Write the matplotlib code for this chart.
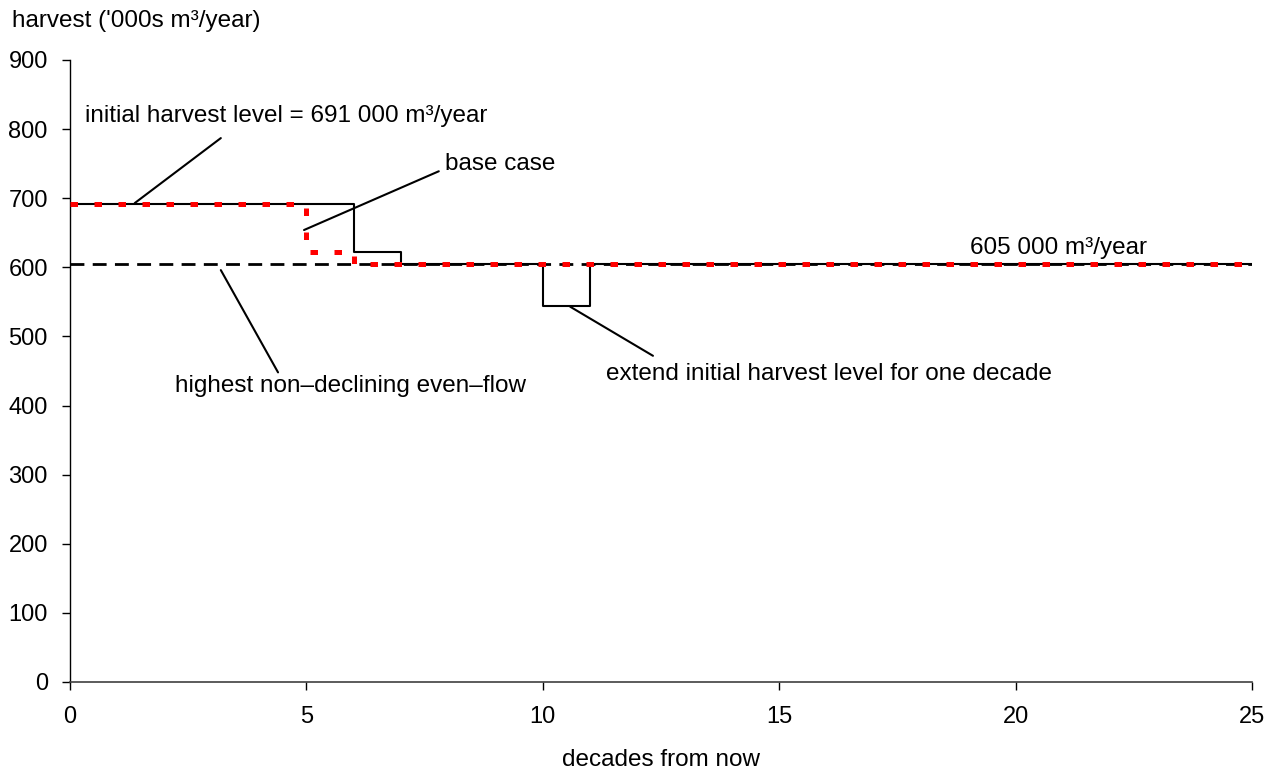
import matplotlib
matplotlib.use("Agg")
import matplotlib.pyplot as plt

# harvest schedules ('000s m3/year), step values start at each decade listed
base_decades = [0, 5, 6, 25]
base_harvest = [691, 622, 605, 605]
extend_decades = [0, 6, 7, 10, 11, 25]
extend_harvest = [691, 622, 605, 544, 605, 605]
evenflow_decades = [0, 25]
evenflow_harvest = [605, 605]

xticks = [0, 5, 10, 15, 20, 25]
yticks = [0, 100, 200, 300, 400, 500, 600, 700, 800, 900]

plt.rcParams['font.family'] = ['Liberation Sans', 'DejaVu Sans']
FS = 17.5      # annotation / axis titles
TFS = 17       # tick labels

fig = plt.figure(figsize=(12.74, 7.73), dpi=100)
ax = fig.add_axes([70/1274, 1-682/773, (1252-70)/1274, (682-60)/773])

ax.plot(evenflow_decades, evenflow_harvest, color="black", lw=2.0,
        dashes=(5, 3), zorder=2)
ax.plot(extend_decades, extend_harvest, color="black", lw=1.5,
        drawstyle="steps-post", zorder=3)
ax.plot(base_decades, base_harvest, color="#ff0000", lw=3.6,
        dashes=(1.5, 3.3), dash_capstyle="butt", drawstyle="steps-post", zorder=4)

ax.set_xlim(0, 25)
ax.set_ylim(0, 900)
ax.set_xticks(xticks)
ax.set_yticks(yticks)
ax.tick_params(axis="both", direction="out", length=6, width=1, color="black",
               labelsize=TFS)
ax.tick_params(axis="y", pad=10)
ax.tick_params(axis="x", pad=11)
for s in ["top", "right"]:
    ax.spines[s].set_visible(False)
ax.spines["left"].set_color("black")
ax.spines["bottom"].set_color("#404040")
ax.spines["left"].set_linewidth(1)
ax.spines["bottom"].set_linewidth(1.2)

def leader(p0, p1):
    ax.annotate("", xy=p1, xytext=p0,
                arrowprops=dict(arrowstyle="-", color="black", lw=1.5,
                                shrinkA=0, shrinkB=0))

ax.text(0.32, 819, "initial harvest level = 691 000 m\u00b3/year", fontsize=FS,
        ha="left", va="center")
leader((3.19, 787), (1.37, 693))

ax.text(7.93, 750, "base case", fontsize=FS, ha="left", va="center")
leader((7.80, 739), (4.95, 654))

ax.text(5.94, 428, "highest non\u2013declining even\u2013flow", fontsize=FS,
        ha="center", va="center")
leader((4.40, 448), (3.19, 596))

ax.text(11.34, 446, "extend initial harvest level for one decade", fontsize=FS,
        ha="left", va="center")
leader((12.33, 472), (10.58, 543))

ax.text(20.9, 628, "605 000 m\u00b3/year", fontsize=FS, ha="center", va="center")

fig.text(12/1274, 1-21/773, "harvest ('000s m\u00b3/year)", fontsize=FS,
         ha="left", va="center")
fig.text(661/1274, 1-760/773, "decades from now", fontsize=FS,
         ha="center", va="center")

fig.savefig("out.png", dpi=100)
